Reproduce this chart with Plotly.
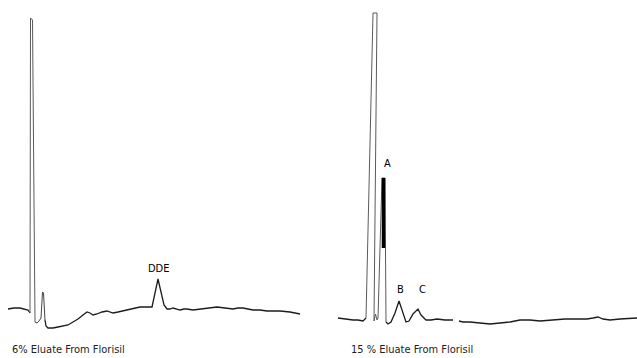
import plotly.graph_objects as go
from plotly.subplots import make_subplots

# Left chromatogram: 6% eluate (time in chart units, detector response)
left_time = [8, 14, 20, 25, 28, 30, 30.5, 32.5, 35, 37, 39, 41, 42.5, 43.5, 45, 46, 48, 53, 58, 63,
             68, 73, 78, 83, 87, 90, 93, 97, 102, 107, 110, 113, 118, 127, 135, 140, 146, 152, 158, 164,
             167, 170, 173, 177, 180, 184, 187, 193, 200, 208, 217, 225, 233, 238, 243, 248, 253, 260,
             267, 273, 280, 290, 296, 300]
left_response = [21, 22, 22, 21, 20, 17, 312, 310, 8, 7, 9, 12, 38, 37, 10, 4, 2, 2, 3, 4,
                 5, 8, 11, 15, 18, 17, 15, 16, 18, 19, 18, 17, 18, 20, 22, 23, 23, 23, 51, 25,
                 21, 21, 22, 21, 20, 21, 21, 20, 21, 22, 23, 22, 21, 22, 22, 21, 20, 20,
                 19, 19, 19, 18, 17, 16]

# Right chromatogram: 15% eluate
right_time = [18, 25, 33, 38, 43, 46, 53, 57, 54, 55.5, 57, 58, 62, 65, 66, 68, 71, 75, 79, 82,
              86, 89, 93, 98, 101, 106, 111, 117, 125, 133, None, 139, 143, 150, 160, 170, 180, 190,
              200, 210, 220, 233, 245, 255, 267, 273, 278, 283, 290, 300, 310, 317]
right_response = [12, 11, 10, 10, 9, 12, 317, 317, 9, 16, 10, 12, 152, 152, 8, 6, 8, 17, 29, 20,
                  8, 9, 16, 21, 15, 10, 10, 11, 10, 10, None, 9, 8, 8, 7, 6, 7, 8,
                  10, 10, 9, 10, 11, 11, 11, 12, 13, 11, 10, 11, 12, 12]

# Saturated (over-inked) part of peak A
peakA_time = [63.5, 63.5]
peakA_response = [152, 82]

peak_labels = ["DDE", "A", "B", "C"]
captions = ["6% Eluate From Florisil", "15 % Eluate From Florisil"]

ink = "#1c1c1c"
pen_fast = "#5a5a5a"   # fast pen strokes on the tall solvent peaks look fainter


def add_piece(t, r, a, b, col, color, width):
    fig.add_trace(go.Scatter(x=t[a:b], y=r[a:b], mode="lines", connectgaps=False,
                             line=dict(color=color, width=width)), row=1, col=col)


fig = make_subplots(rows=1, cols=2, horizontal_spacing=0)
# left trace: baseline, solvent spike, remainder
add_piece(left_time, left_response, 0, 6, 1, ink, 1.3)
add_piece(left_time, left_response, 5, 9, 1, pen_fast, 1.0)
add_piece(left_time, left_response, 8, 15, 1, "#444", 1.0)
add_piece(left_time, left_response, 14, len(left_time), 1, ink, 1.3)
# right trace
add_piece(right_time, right_response, 0, 6, 2, ink, 1.3)
add_piece(right_time, right_response, 5, 15, 2, pen_fast, 1.0)
add_piece(right_time, right_response, 14, len(right_time), 2, ink, 1.3)
fig.add_trace(go.Scatter(x=peakA_time, y=peakA_response, mode="lines",
                         line=dict(color="#000", width=3.5)), row=1, col=2)

lab_font = dict(family="DejaVu Sans Condensed, Liberation Sans Narrow, DejaVu Sans", size=11, color="#000")
cap_font = dict(family="DejaVu Sans Condensed, Liberation Sans Narrow, DejaVu Sans", size=11, color="#222")
fig.add_annotation(x=159, y=62, xref="x", yref="y", text=peak_labels[0], showarrow=False, font=lab_font)
fig.add_annotation(x=67, y=167, xref="x2", yref="y2", text=peak_labels[1], showarrow=False, font=lab_font)
fig.add_annotation(x=80, y=41, xref="x2", yref="y2", text=peak_labels[2], showarrow=False, font=lab_font)
fig.add_annotation(x=102, y=41, xref="x2", yref="y2", text=peak_labels[3], showarrow=False, font=lab_font)
fig.add_annotation(x=68, y=-19, xref="x", yref="y", text=captions[0], showarrow=False, font=cap_font)
fig.add_annotation(x=92, y=-19, xref="x2", yref="y2", text=captions[1], showarrow=False, font=cap_font)

fig.update_xaxes(visible=False)
fig.update_yaxes(visible=False, range=[-28, 330])
fig.update_layout(
    width=637, height=358, margin=dict(l=0, r=0, t=0, b=0),
    showlegend=False, plot_bgcolor="white", paper_bgcolor="white",
    xaxis=dict(domain=[0, 320 / 637], range=[0, 320]),
    xaxis2=dict(domain=[320 / 637, 1], range=[0, 317]),
)
fig.write_html("out.html", config={"displayModeBar": False},
               post_script="document.body.style.margin='0';")
